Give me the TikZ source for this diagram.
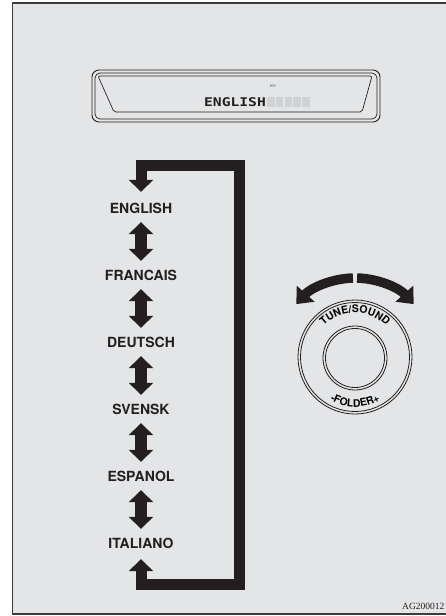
\documentclass[tikz,border=0pt]{standalone}
\usepackage{fontspec}
\setmainfont{Liberation Serif}
\setsansfont{TeX Gyre Heros}
\newfontfamily\lcdfont{DejaVu Sans Mono}
\usetikzlibrary{arrows.meta, positioning, decorations.text}
\definecolor{cpanel}{HTML}{E4E5E7}
\definecolor{cink}{HTML}{231F20}
\definecolor{cframe}{HTML}{3C3C3C}
\definecolor{cseg}{HTML}{D0D1D3}
\tikzset{
  lang/.style={font=\sffamily\bfseries\fontsize{14}{14}\selectfont, text=cink, inner sep=0pt, minimum height=20pt},
  toggle/.style={{Triangle[width=24pt, length=12pt]}-{Triangle[width=24pt, length=12pt]}, draw=cink, line width=12pt, shorten <=4pt, shorten >=4pt},
  loopline/.style={{Triangle[width=24pt, length=12pt]}-{Triangle[width=24pt, length=12pt]}, draw=cink, line width=11pt, line join=miter, shorten <=6pt, shorten >=6pt},
  turn/.style={-{Triangle[width=23pt, length=14pt]}, draw=cink, line width=9.5pt},
  ring/.style={draw=cink, line width=0.8pt},
  rimtext/.style={decorate, decoration={text along path, text align=center, text={|\sffamily\bfseries\fontsize{10.5}{10.5}\selectfont|#1}}},
}

\begin{document}
\begin{tikzpicture}[x=1pt, y=-1pt]
  \useasboundingbox (0,0) rectangle (445,616);
  % panel
  \fill[cpanel] (12.5,3) rectangle (450,614);
  \draw[cframe, line width=1.6pt] (450,3) -- (12.5,3) -- (12.5,614) -- (450,614);
  % display
  \draw[cink, line width=0.9pt, rounded corners=7pt] (92,70) rectangle (380,122);
  \draw[cink, line width=0.7pt, rounded corners=5pt] (95,73) rectangle (377,119);
  \draw[cink, line width=0.7pt, rounded corners=2pt] (98,76) -- (372,76) -- (362,112) -- (114,112) -- cycle;
  \node[font=\lcdfont\bfseries\fontsize{12}{12}\selectfont, text=cink, inner sep=0pt] (lcd) at (235,102) {\scalebox{1.22}[1]{ENGLISH}};
  \foreach \k in {0,...,4} \fill[cseg] (267+8.8*\k,97) rectangle ++(7.6,9.5);
  \node[font=\sffamily\fontsize{3}{3}\selectfont, text=cink, inner sep=0pt] (pty) at (273,86) {PTY};
  % language list
  \foreach \n/\t [count=\i from 0] in {english/ENGLISH, francais/FRANCAIS, deutsch/DEUTSCH, svensk/SVENSK, espanol/ESPANOL, italiano/ITALIANO}
    \node[lang] (\n) at (141, 208+67*\i) {\t};
  \foreach \a/\b in {english/francais, francais/deutsch, deutsch/svensk, svensk/espanol, espanol/italiano}
    \draw[toggle] (\a) -- (\b);
  \coordinate (loopb) at (239,584);
  \coordinate (loopt) at (239,165);
  \draw[loopline] (italiano.south) |- (loopb) -- (loopt) -| (english.north);
  % knob
  \begin{scope}[shift={(355,357)}, y=1pt]
    \draw[ring] (0,0) circle[radius=57];
    \draw[ring] (0,0) circle[radius=54.5];
    \draw[ring] (0,-1) circle[radius=32];
    \draw[ring] (0,-1) circle[radius=29.5];
    \path[rimtext=TUNE/SOUND] (165:44) arc[start angle=165, end angle=15, radius=44];
    \path[rimtext=-FOLDER+] (-155:50) arc[start angle=-155, end angle=-25, radius=50];
    \draw[turn] (91.5:79) arc[start angle=91.5, end angle=138, radius=79];
    \draw[turn] (88.5:79) arc[start angle=88.5, end angle=42, radius=79];
  \end{scope}
  \node[font=\rmfamily\fontsize{9.5}{9.5}\selectfont, text=cink, anchor=base west, inner sep=0pt] (code) at (402,609) {AG200012};
\end{tikzpicture}
\end{document}
